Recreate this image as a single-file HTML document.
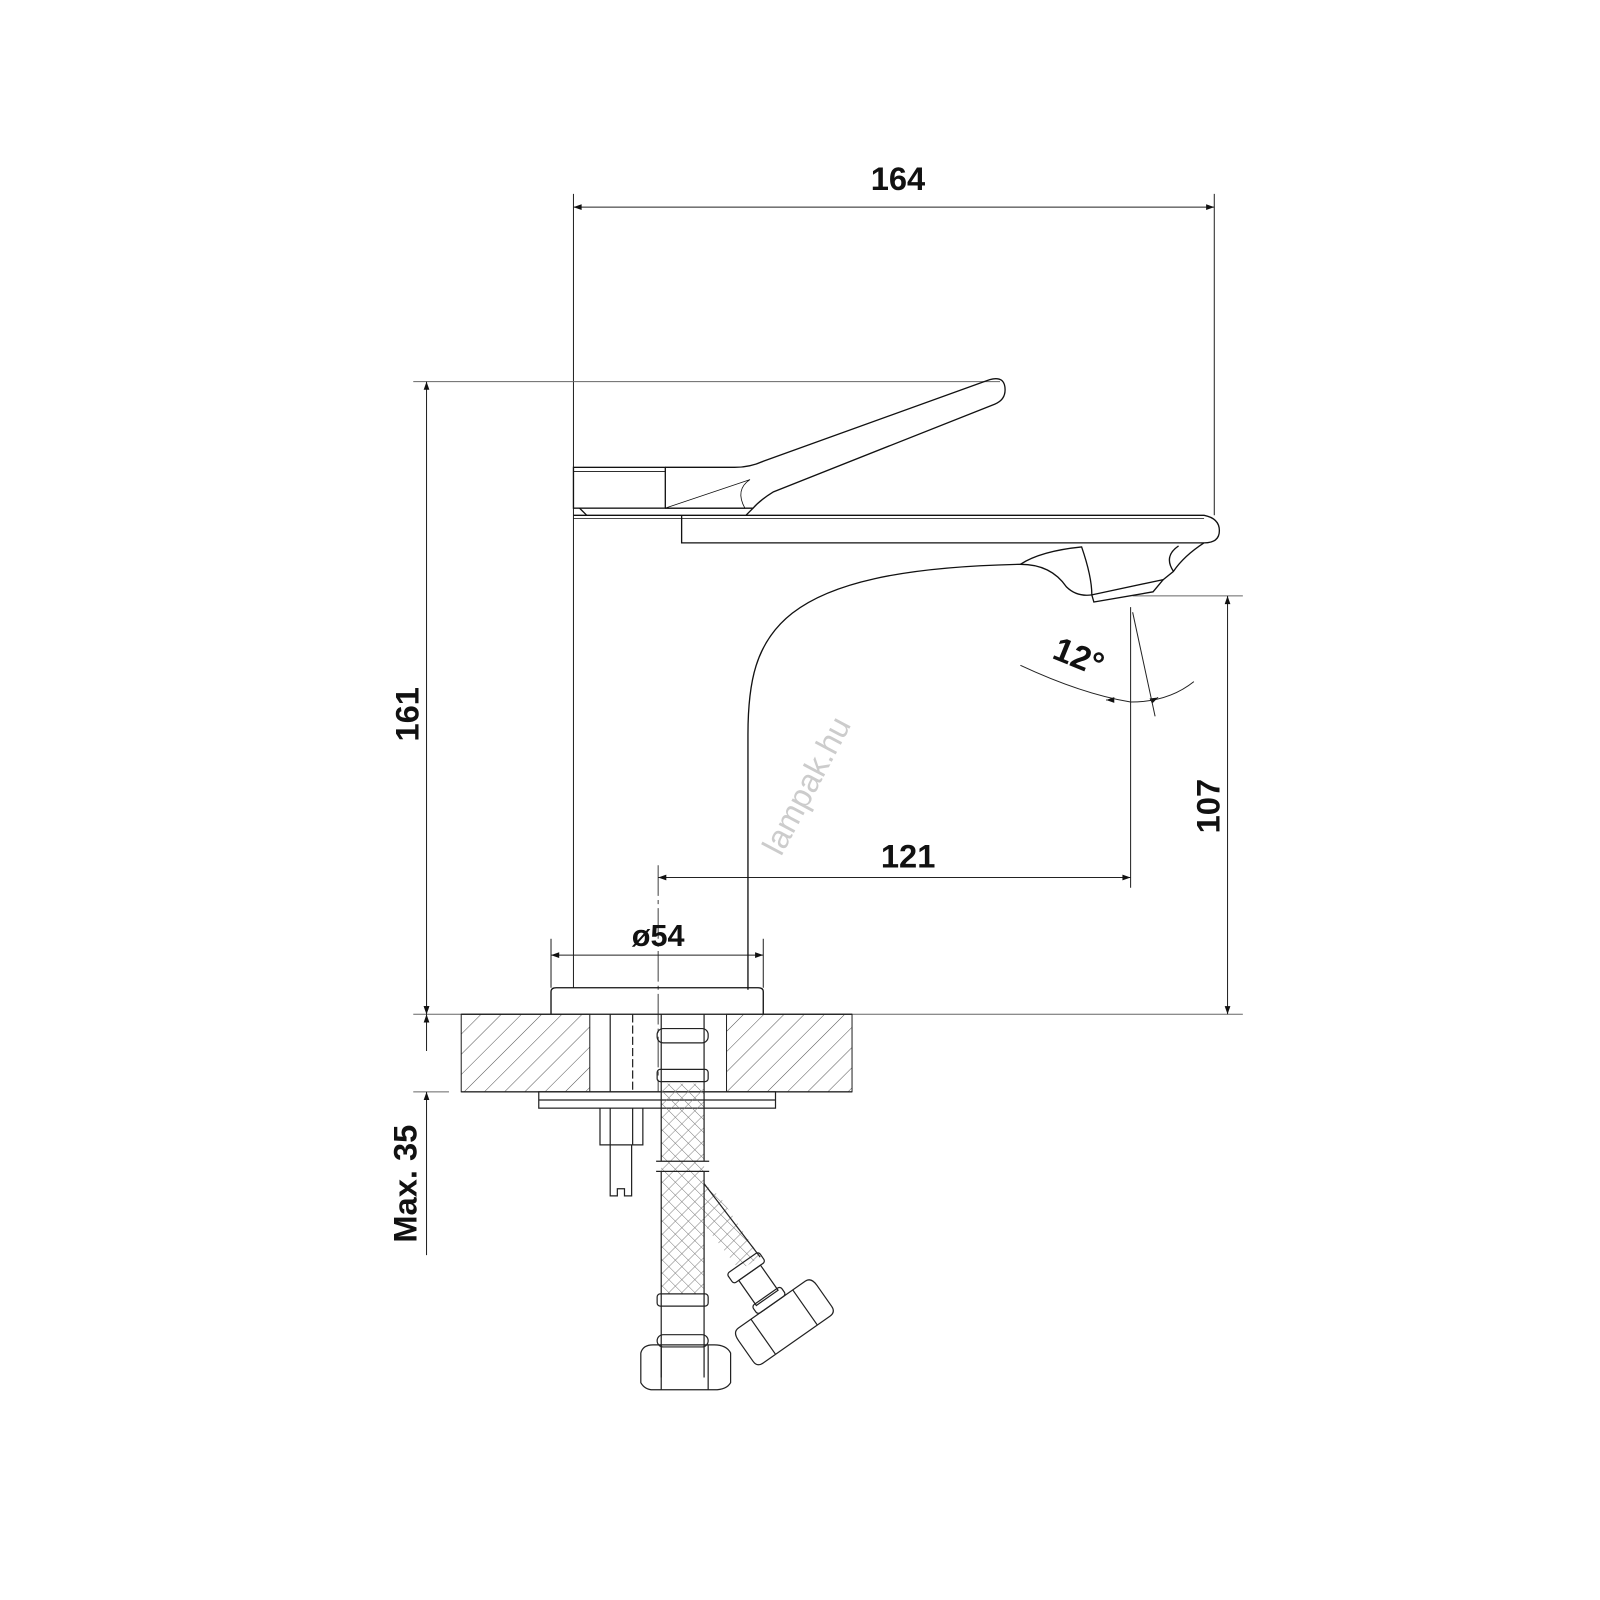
<!DOCTYPE html>
<html><head><meta charset="utf-8"><style>
html,body{margin:0;padding:0;background:#fff;}
svg{display:block;}
text{font-family:"Liberation Sans",sans-serif;font-weight:bold;fill:#111;}
</style></head><body>
<svg width="1600" height="1600" viewBox="0 0 1600 1600" xmlns="http://www.w3.org/2000/svg">
<defs>
<pattern id="hatch" width="14" height="14" patternUnits="userSpaceOnUse" patternTransform="rotate(45)">
<line x1="0" y1="0" x2="0" y2="14" stroke="#555" stroke-width="1"/>
</pattern>
<pattern id="mesh" width="9" height="9" patternUnits="userSpaceOnUse" patternTransform="rotate(45)">
<path d="M0 0H9M0 0V9" stroke="#777" stroke-width="0.9" fill="none"/>
</pattern>
<marker id="ar" viewBox="0 0 10 10" refX="10" refY="5" markerWidth="22" markerHeight="8" markerUnits="userSpaceOnUse" orient="auto-start-reverse">
<path d="M0 1.5L10 5L0 8.5z" fill="#111"/>
</marker>
</defs>
<g transform="scale(1.0204)">
<g fill="none" stroke="#222" stroke-width="1">
<line x1="562" y1="190" x2="562" y2="968"/>
<line x1="1190" y1="190" x2="1190" y2="505"/>
<line x1="562" y1="203" x2="1190" y2="203" marker-start="url(#ar)" marker-end="url(#ar)"/>
<line x1="405" y1="374" x2="980" y2="374" stroke="#666"/>
<line x1="418" y1="374" x2="418" y2="994" marker-start="url(#ar)" marker-end="url(#ar)"/>
<line x1="405" y1="994" x2="1218" y2="994" stroke="#666"/>
<line x1="405" y1="1070" x2="440" y2="1070" stroke="#666"/>
<line x1="418" y1="994" x2="418" y2="960" marker-start="url(#ar)"/>
<line x1="418" y1="994" x2="418" y2="1030" marker-start="url(#ar)"/>
<line x1="418" y1="1070" x2="418" y2="1230" marker-start="url(#ar)"/>
<line x1="1110" y1="584" x2="1218" y2="584" stroke="#666"/>
<line x1="1203" y1="584" x2="1203" y2="994" marker-start="url(#ar)" marker-end="url(#ar)"/>
<line x1="645" y1="848" x2="645" y2="1070" stroke="#444" stroke-dasharray="30 4 4 4"/>
<line x1="1108" y1="595" x2="1108" y2="870"/>
<line x1="645" y1="860" x2="1108" y2="860" marker-start="url(#ar)" marker-end="url(#ar)"/>
<line x1="540" y1="920" x2="540" y2="968"/>
<line x1="748" y1="920" x2="748" y2="968"/>
<line x1="540" y1="936" x2="748" y2="936" marker-start="url(#ar)" marker-end="url(#ar)"/>
<path d="M1000 652 Q1060 680 1108 688 Q1145 688 1170 668"/>
<line x1="1085" y1="686" x2="1084" y2="686" marker-end="url(#ar)"/>
<line x1="1134" y1="684" x2="1135" y2="683.5" marker-end="url(#ar)"/>
<line x1="1110" y1="600" x2="1132" y2="702"/>
</g>
<g fill="none" stroke="#111" stroke-width="1.3">
<rect x="562" y="458" width="90" height="40"/>
<line x1="562" y1="462" x2="652" y2="462" stroke-width="0.8"/>
<path d="M652 458 L720 458 Q735 458 748 452 L970 372 Q985 368 985 382 Q985 392 975 396 L758 482 Q745 490 738 498 L652 498"/>
<path d="M735 470 Q720 480 730 498 L652 498 Z" stroke-width="0.8"/>
<path d="M568 498 L575 505 M738 498 L731 505"/>
<path d="M562 505 L1180 505 Q1195 508 1195 520 Q1195 532 1180 532 L668 532 L668 505"/>
<line x1="562" y1="508" x2="1180" y2="508" stroke-width="0.7"/>
<path d="M733 970 L733 720 C733 620 760 558 1000 553 Q1030 553 1045 575 Q1055 585 1070 583 L1140 568 L1150 560 Q1160 545 1180 532"/>
<path d="M1000 553 Q1020 540 1060 536 Q1070 565 1070 583 M1150 560 Q1140 545 1155 535"/>
<path d="M1070 583 L1072 590 L1130 580 L1140 568"/>
<path d="M540 994 L540 972 Q540 968 545 968 L743 968 Q748 968 748 972 L748 994"/>
</g>
<rect x="452" y="994" width="126" height="76" fill="url(#hatch)" stroke="#222"/>
<rect x="712" y="994" width="123" height="76" fill="url(#hatch)" stroke="#222"/>
<g fill="none" stroke="#222" stroke-width="1.2">
<line x1="452" y1="994" x2="835" y2="994"/>
<line x1="452" y1="1070" x2="835" y2="1070"/>
<rect x="528" y="1070" width="232" height="16"/>
<line x1="528" y1="1078" x2="760" y2="1078"/>
<line x1="598" y1="994" x2="598" y2="1070"/>
<line x1="620" y1="994" x2="620" y2="1070" stroke-dasharray="8 3"/>
<path d="M588 1086 L588 1122 L630 1122 L630 1086 M598 1086 L598 1122 M620 1086 L620 1122"/>
<path d="M598 1122 L598 1172 L605 1172 L605 1165 L612 1165 L612 1172 L619 1172 L619 1122"/>
</g>
<rect x="648" y="1062" width="42" height="206" fill="url(#mesh)" stroke="none"/>
<polygon points="690,1160 705,1172 745,1232 725,1245 690,1200" fill="url(#mesh)"/>
<g fill="none" stroke="#222" stroke-width="1.2">
<line x1="648" y1="994" x2="648" y2="1138"/><line x1="690" y1="994" x2="690" y2="1138"/>
<line x1="648" y1="1148" x2="648" y2="1350"/><line x1="690" y1="1148" x2="690" y2="1350"/>
<line x1="643" y1="1138" x2="695" y2="1138"/><line x1="643" y1="1148" x2="695" y2="1148"/>
<rect x="644" y="1008" width="50" height="14" rx="6"/>
<rect x="644" y="1048" width="50" height="12" rx="3"/>
<rect x="644" y="1268" width="50" height="12" rx="3"/>
<rect x="644" y="1308" width="50" height="12" rx="6"/>
<path d="M628 1326 L628 1355 Q632 1362 640 1362 L700 1362 Q712 1362 716 1355 L716 1326 Q712 1318 700 1318 L640 1318 Q630 1318 628 1326 Z M648 1318 L648 1362 M694 1318 L694 1362"/>
<path d="M690 1160 L745 1232"/>
<g transform="translate(772,1292) rotate(-35)">
<rect x="-24" y="-70" width="38" height="12" rx="3"/>
<rect x="-18" y="-58" width="26" height="30"/>
<rect x="-22" y="-30" width="34" height="10" rx="3"/>
<path d="M-45 -20 L35 -20 Q42 -20 42 -10 L42 15 Q42 22 35 22 L-45 22 Q-52 22 -52 15 L-52 -10 Q-52 -20 -45 -20 Z M-30 -20 L-30 22 M20 -20 L20 22"/>
</g>
</g>
<text x="880" y="186" font-size="32" text-anchor="middle">164</text>
<text transform="translate(410,700) rotate(-90)" font-size="32" text-anchor="middle">161</text>
<text transform="translate(1195,790) rotate(-90)" font-size="32" text-anchor="middle">107</text>
<text x="890" y="850" font-size="32" text-anchor="middle">121</text>
<text x="645" y="927" font-size="30" text-anchor="middle">ø54</text>
<text transform="translate(408,1160) rotate(-90)" font-size="32" text-anchor="middle">Max. 35</text>
<text transform="translate(1053,654) rotate(22)" font-size="33" text-anchor="middle">12°</text>
<text transform="translate(800,775) rotate(-62)" font-size="32" text-anchor="middle" style="font-weight:normal;fill:#ccc">lampak.hu</text>
</g>
</svg>
</body></html>
